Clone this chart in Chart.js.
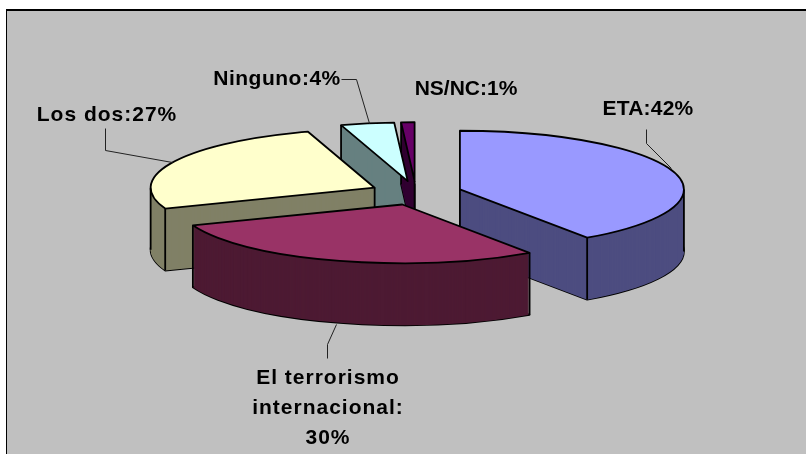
<!DOCTYPE html>
<html>
<head>
<meta charset="utf-8">
<style>
  html, body { margin: 0; padding: 0; background: #fff; }
  canvas { display: block; }
</style>
<script src="https://cdn.jsdelivr.net/npm/chart.js@4"></script>
</head>
<body>
<canvas id="pie" width="806" height="454"></canvas>
<script>
const categories = ["ETA", "El terrorismo internacional", "Los dos", "Ninguno", "NS/NC"];
const values = [42, 30, 27, 4, 1];
const topColors = ["#9999FF", "#993366", "#FFFFCC", "#CCFFFF", "#660066"];
const wallColors = ["#4D4D80", "#4D1A33", "#808066", "#668080", "#330033"];

// Fake 3D settings
const SQUASH = 0.262;
const DEPTH = 62;
const EXPLODE = 46;
const OUTLINE = 1.8;
// back to front
const wallOrder = [3, 4, 2, 0, 1];

// Label text and where it goes, one entry per slice
const labelLines = [
  ["ETA:42%"],
  ["El terrorismo", "internacional:", "30%"],
  ["Los dos:27%"],
  ["Ninguno:4%"],
  ["NS/NC:1%"]
];
const labelSpots = [[648, 109], [328, 378], [107, 115], [277, 79], [466, 89]];
const labelSpacing = [0.2, 1, 1, 0.5, 0];
const leaders = [
  [[646, 129], [646, 143], [671, 168]],
  [[336, 324], [327, 344], [327, 358]],
  [[105, 128], [105, 150], [172, 162]],
  [[341, 79], [356, 79], [369, 123]],
  []
];

const fake3d = {
  id: "fake3d",
  // Pull the slices out of the middle
  afterDatasetsUpdate(chart) {
    chart.getDatasetMeta(0).data.forEach(arc => {
      const mid = (arc.startAngle + arc.endAngle) / 2;
      arc.x += Math.cos(mid) * EXPLODE;
      arc.y += Math.sin(mid) * EXPLODE;
    });
  },
  beforeDraw(chart) {
    const ctx = chart.ctx;
    ctx.save();
    ctx.fillStyle = "#000";
    ctx.fillRect(6, 9, 800, 445);
    ctx.fillStyle = "#C0C0C0";
    ctx.fillRect(7, 11, 799, 443);
    ctx.restore();
  },
  beforeDatasetsDraw(chart) {
    const ctx = chart.ctx;
    const arcs = chart.getDatasetMeta(0).data;
    const cy = (chart.chartArea.top + chart.chartArea.bottom) / 2;

    // Walls first, then the library draws the tops over them
    ctx.save();
    ctx.lineWidth = OUTLINE;
    ctx.lineJoin = "round";
    ctx.strokeStyle = "#000";
    wallOrder.forEach(i => {
      const arc = arcs[i];
      slicePath(ctx, arc, cy, DEPTH);
      ctx.stroke();
      ctx.fillStyle = wallColors[i];
      for (let d = DEPTH; d >= 0; d--) {
        slicePath(ctx, arc, cy, d);
        ctx.fill();
      }
      wallEdges(ctx, arc, cy);
    });
    ctx.restore();

    // Squash the circle into an ellipse
    ctx.save();
    ctx.translate(0, cy);
    ctx.scale(1, SQUASH);
    ctx.translate(0, -cy);
  },
  afterDatasetsDraw(chart) {
    const ctx = chart.ctx;
    ctx.restore();

    const arcs = chart.getDatasetMeta(0).data;
    const cy = (chart.chartArea.top + chart.chartArea.bottom) / 2;
    ctx.save();
    ctx.lineWidth = OUTLINE;
    ctx.lineJoin = "round";
    ctx.strokeStyle = "#000";
    arcs.forEach(arc => {
      slicePath(ctx, arc, cy, 0);
      ctx.stroke();
    });
    ctx.restore();
  },
  afterDraw(chart) {
    const ctx = chart.ctx;
    ctx.save();
    ctx.strokeStyle = "#222";
    ctx.lineWidth = 1;
    leaders.forEach(pts => {
      if (!pts.length) return;
      ctx.beginPath();
      pts.forEach((p, n) => n ? ctx.lineTo(p[0] + 0.5, p[1] + 0.5) : ctx.moveTo(p[0] + 0.5, p[1] + 0.5));
      ctx.stroke();
    });
    ctx.fillStyle = "#000";
    ctx.font = "bold 21px 'Liberation Sans', Arial, sans-serif";
    ctx.textAlign = "center";
    ctx.textBaseline = "middle";
    labelLines.forEach((lines, i) => {
      ctx.letterSpacing = labelSpacing[i] + "px";
      lines.forEach((line, n) => {
        ctx.fillText(line, labelSpots[i][0], labelSpots[i][1] + n * 30);
      });
    });
    ctx.restore();
  }
};

function slicePath(ctx, arc, cy, drop) {
  const x = arc.x;
  const y = cy + (arc.y - cy) * SQUASH + drop;
  const r = arc.outerRadius;
  ctx.beginPath();
  ctx.moveTo(x, y);
  ctx.ellipse(x, y, r, r * SQUASH, 0, arc.startAngle, arc.endAngle);
  ctx.closePath();
}

// Vertical lines, only where one of the two walls meeting there faces the viewer
function wallEdges(ctx, arc, cy) {
  const x = arc.x;
  const y = cy + (arc.y - cy) * SQUASH;
  const r = arc.outerRadius;
  const startFace = Math.cos(arc.startAngle) < -0.001;
  const endFace = Math.cos(arc.endAngle) > 0.001;
  const angles = [];
  if (startFace || Math.sin(arc.startAngle) > 0) angles.push(arc.startAngle);
  if (endFace || Math.sin(arc.endAngle) > 0) angles.push(arc.endAngle);
  [0, Math.PI, -Math.PI].forEach(a => {
    if (a > arc.startAngle && a < arc.endAngle) angles.push(a);
  });
  ctx.beginPath();
  if (startFace || endFace) {
    ctx.moveTo(x, y);
    ctx.lineTo(x, y + DEPTH);
  }
  angles.forEach(a => {
    const px = x + Math.cos(a) * r;
    const py = y + Math.sin(a) * r * SQUASH;
    ctx.moveTo(px, py);
    ctx.lineTo(px, py + DEPTH);
  });
  ctx.stroke();
}

new Chart(document.getElementById("pie"), {
  type: "pie",
  data: {
    labels: categories,
    datasets: [{
      data: values,
      backgroundColor: topColors,
      borderWidth: 0,
      radius: 224,
      clip: false
    }]
  },
  options: {
    responsive: false,
    animation: false,
    layout: { padding: { left: 26, bottom: 68 } },
    plugins: {
      legend: { display: false },
      tooltip: { enabled: false }
    }
  },
  plugins: [fake3d]
});
</script>
</body>
</html>
